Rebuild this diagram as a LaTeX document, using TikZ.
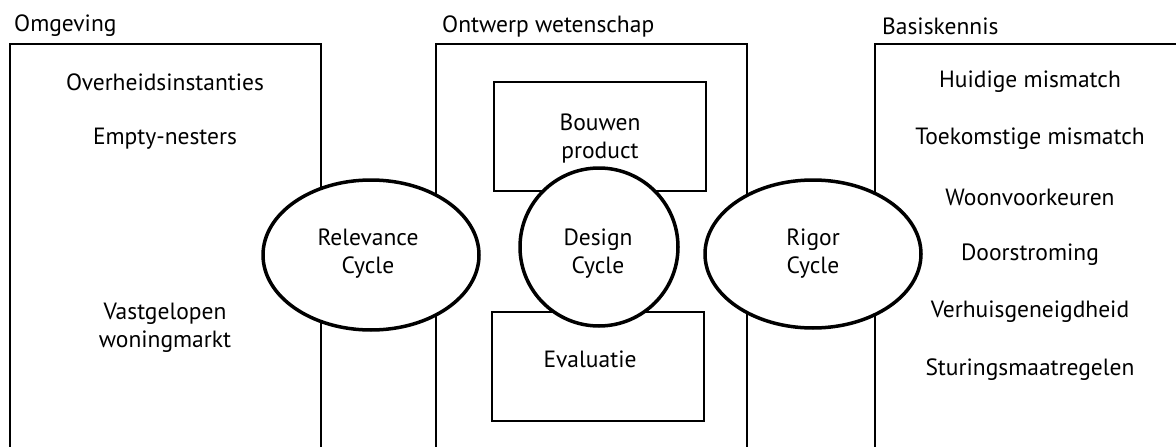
\documentclass[tikz,border=0pt]{standalone}
\usepackage{fontspec}
\setmainfont{PT Sans}
\usetikzlibrary{shapes.geometric}
\begin{document}
\begin{tikzpicture}[x=1pt,y=-1pt,
  boxline/.style={line width=2pt},
  cyc/.style={ellipse,draw,line width=3.5pt,fill=white,inner sep=0pt},
  inbox/.style={draw,line width=2pt,fill=white,inner sep=0pt},
  txt/.style={font=\fontsize{23.5}{28}\selectfont,align=center,inner sep=0pt},
  lbl/.style={font=\fontsize{23.5}{28}\selectfont,anchor=west,inner sep=0pt}]
\useasboundingbox (0,0) rectangle (1176,447);
% outer open boxes
\draw[boxline] (10,448) -- (10,44) -- (321,44) -- (321,448);
\draw[boxline] (436,448) -- (436,44) -- (747,44) -- (747,448);
\draw[boxline] (875,448) -- (875,44) -- (1178,44);
% labels
\node[lbl] (omg) at (14,26) {Omgeving};
\node[lbl] (ont) at (442,26) {Ontwerp wetenschap};
\node[lbl] (bas) at (882,26) {Basiskennis};
% inner boxes
\node[inbox,minimum width=212pt,minimum height=109pt] (bouw) at (600,136.5) {};
\node[inbox,minimum width=212pt,minimum height=109pt] (eval) at (598,366.5) {};
\node[txt] (bouwt) at (600,139) {Bouwen\\product};
\node[txt] (evalt) at (590,359) {Evaluatie};
% cycles
\node[cyc,minimum width=216pt,minimum height=150pt] (rel) at (371,255) {};
\node[cyc,minimum width=158pt,minimum height=158pt] (des) at (599,247) {};
\node[cyc,minimum width=216pt,minimum height=148pt] (rig) at (813,254) {};
\node[txt] (relt) at (368,254) {Relevance\\Cycle};
\node[txt] (dest) at (598,254) {Design\\Cycle};
\node[txt] (rigt) at (813,254) {Rigor\\Cycle};
% left items
\node[txt] (o1) at (165,82) {Overheidsinstanties};
\node[txt] (o2) at (165,139) {Empty-nesters};
\node[txt] (o3) at (165,328) {Vastgelopen\\woningmarkt};
% right items
\node[txt] (b1) at (1030,82) {Huidige mismatch};
\node[txt] (b2) at (1030,139) {Toekomstige mismatch};
\node[txt] (b3) at (1030,197) {Woonvoorkeuren};
\node[txt] (b4) at (1030,255) {Doorstroming};
\node[txt] (b5) at (1030,312) {Verhuisgeneigdheid};
\node[txt] (b6) at (1030,370) {Sturingsmaatregelen};
\end{tikzpicture}
\end{document}
